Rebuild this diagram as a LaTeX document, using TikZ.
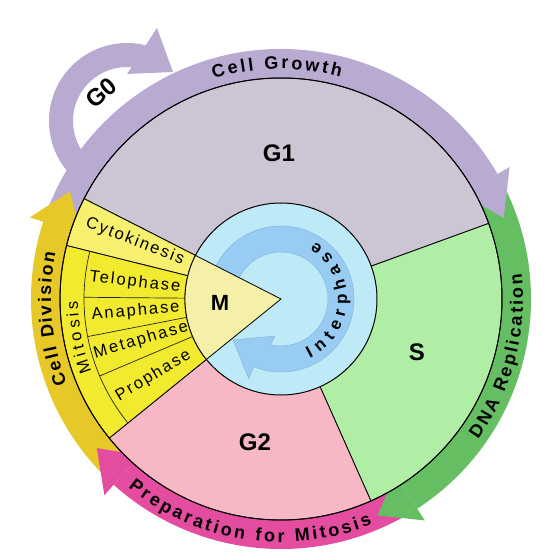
\documentclass[tikz,border=0pt]{standalone}
\usepackage{fontspec}
\setmainfont{Liberation Sans}
\usepackage{tikz}
\usetikzlibrary{decorations.text}

\definecolor{growthc}{HTML}{B9AAD2}
\definecolor{replic}{HTML}{66BE62}
\definecolor{prepc}{HTML}{E44CA0}
\definecolor{divisc}{HTML}{E6C828}
\definecolor{gonec}{HTML}{CCC6D4}
\definecolor{sphc}{HTML}{B0EEA6}
\definecolor{gtwoc}{HTML}{F6B8C4}
\definecolor{cytoc}{HTML}{F6F06E}
\definecolor{mitoc}{HTML}{F2EA2E}
\definecolor{innerc}{HTML}{BEEAF8}
\definecolor{ringc}{HTML}{99CCF2}
\definecolor{ringline}{HTML}{80B8E4}
\definecolor{mcore}{HTML}{F5F0A8}

\newcommand\bandfont{\fontsize{18}{18}\selectfont\bfseries}
\newcommand\phasefont{\fontsize{16.5}{16.5}\selectfont}
\newcommand\ringfont{\fontsize{17}{17}\selectfont\bfseries}

\begin{document}
\begin{tikzpicture}
	[x=1pt,y=1pt,
		big/.style={font=\fontsize{24}{24}\selectfont\bfseries},
		phase/.style={font=\phasefont\addfontfeature{LetterSpace=12}},
		segment/.style={fill=#1, draw=black, line width=0.8pt},
		divider/.style={draw=black!85, line width=0.7pt},
		curved/.style={decorate, decoration={text along path, text align=fit to path, text={#1}}}]

	\fill[white] (-281,-261) rectangle (274,299);
	\useasboundingbox (-281,-261) rectangle (274,299);

	% outer arrows
	\foreach \s/\b/\t/\c in {159/30/20/growthc, 27/-57/-66/replic, -60/-132/-141/prepc, -135/-198/-207/divisc}
	{
		\fill[\c] (\s:219) arc[start angle=\s, end angle=\b, radius=219] -- (\b:250) arc[start angle=\b, end angle=\s, radius=250] -- cycle;
	}
	\coordinate (loop) at (-154,178);
	\draw[growthc, line width=24pt] (loop) ++(228:66) arc[start angle=228, end angle=72, radius=66];
	\fill[growthc] (-124,271) -- (-108,227) -- (-154,225) -- cycle;
	\foreach \s/\b/\t/\c in {159/30/20/growthc, 27/-57/-66/replic, -60/-132/-141/prepc, -135/-198/-207/divisc}
	{
		\fill[\c] (\b:210) -- (\t:237) -- (\b:264) -- cycle;
	}

	% phases
	\path[segment=gonec] (0,0) -- (20:221) arc[start angle=20, end angle=153, radius=221] -- cycle;
	\path[segment=sphc] (0,0) -- (-66:221) arc[start angle=-66, end angle=20, radius=221] -- cycle;
	\path[segment=gtwoc] (0,0) -- (-141:221) arc[start angle=-141, end angle=-66, radius=221] -- cycle;
	\path[segment=cytoc] (0,0) -- (153:221) arc[start angle=153, end angle=166, radius=221] -- cycle;
	\path[segment=mitoc] (0,0) -- (166:221) arc[start angle=166, end angle=219, radius=221] -- cycle;
	\draw[divider] (166:197) arc[start angle=166, end angle=219, radius=197];
	\foreach \a in {179.5,191,203}
		\draw[divider] (\a:96) -- (\a:197);
	\draw[line width=1pt] (0,0) circle[radius=221];

	\path[segment=innerc, line width=1pt] (0,0) circle[radius=96];
	\filldraw[fill=ringc, draw=ringline, line width=0.5pt] (154:73) arc[start angle=154, end angle=-112, radius=73] -- (248:86) -- (220.5:63) -- (260.8:37.5) -- (257:47) arc[start angle=-103, end angle=154, radius=47] -- cycle;
	\path[segment=mcore] (0,0) -- (153:96) arc[start angle=153, end angle=219, radius=96] -- cycle;

	\node[big] (G1) at (-2,146) {G1};
	\node[big] (S) at (136,-53) {S};
	\node[big] (G2) at (-26,-143) {G2};
	\node[big, font=\fontsize{22}{22}\selectfont\bfseries] (M) at (-61,-4) {M};
	\node[big, rotate=40] (G0) at (-180,206) {G0};

	\foreach \a/\r/\t in {158.5/157/Cytokinesis, 173.5/147/Telophase, 185/146/Anaphase, 196.5/146/Metaphase, 211/149/Prophase}
		\node[phase, rotate=\a-180] (\t) at (\a:\r) {\t};

	\path[curved={|\bandfont|Cell Growth}] (107:230) arc[start angle=107, end angle=75, radius=230];
	\path[curved={|\bandfont|DNA Replication}] (-35.5:242) arc[start angle=-35.5, end angle=6, radius=242];
	\path[curved={|\bandfont|Preparation for Mitosis}] (231:243) arc[start angle=231, end angle=292, radius=243];
	\path[curved={|\bandfont|Cell Division}] (201.5:230) arc[start angle=201.5, end angle=168.5, radius=230];
	\path[curved={|\phasefont|Mitosis}] (201:203) arc[start angle=201, end angle=180.5, radius=203];
	\path[curved={|\ringfont|Interphase}] (-64:66) arc[start angle=-64, end angle=59, radius=66];

\end{tikzpicture}
\end{document}
